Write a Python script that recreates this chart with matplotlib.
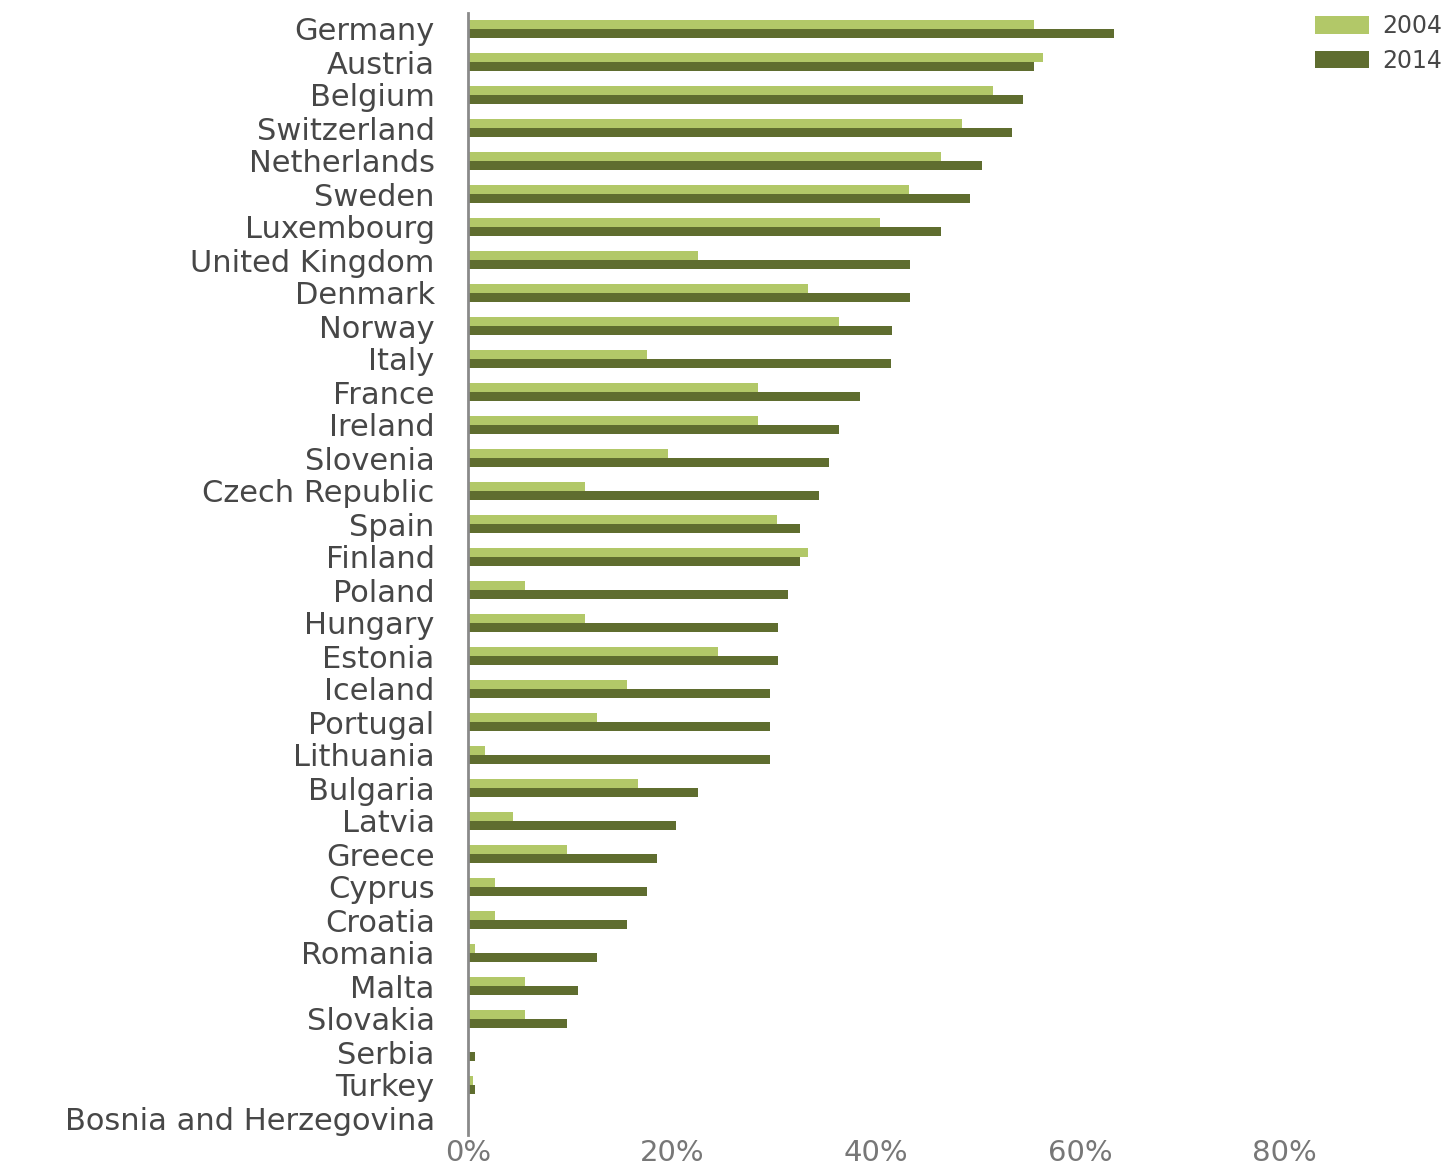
import matplotlib
matplotlib.use("Agg")
import matplotlib.pyplot as plt
import numpy as np
from matplotlib.patches import Patch
from matplotlib.ticker import FuncFormatter

countries = ["Germany", "Austria", "Belgium", "Switzerland", "Netherlands", "Sweden",
             "Luxembourg", "United Kingdom", "Denmark", "Norway", "Italy", "France",
             "Ireland", "Slovenia", "Czech Republic", "Spain", "Finland", "Poland",
             "Hungary", "Estonia", "Iceland", "Portugal", "Lithuania", "Bulgaria",
             "Latvia", "Greece", "Cyprus", "Croatia", "Romania", "Malta", "Slovakia",
             "Serbia", "Turkey", "Bosnia and Herzegovina"]

share_2004 = [55.5, 56.3, 51.4, 48.4, 46.3, 43.2, 40.4, 22.5, 33.3, 36.3, 17.5, 28.4,
              28.4, 19.6, 11.5, 30.3, 33.3, 5.6, 11.5, 24.5, 15.6, 12.6, 1.7, 16.7,
              4.4, 9.7, 2.6, 2.6, 0.7, 5.6, 5.6, 0.0, 0.5, 0.0]

share_2014 = [63.3, 55.5, 54.4, 53.3, 50.4, 49.2, 46.3, 43.3, 43.3, 41.5, 41.4, 38.4,
              36.3, 35.4, 34.4, 32.5, 32.5, 31.4, 30.4, 30.4, 29.6, 29.6, 29.6, 22.5,
              20.4, 18.5, 17.5, 15.6, 12.6, 10.8, 9.7, 0.7, 0.7, 0.0]

years = ["2004", "2014"]
x_ticks = [0, 20, 40, 60, 80]

light = "#b2c868"
dark = "#5f6d2f"
text_col = "#474747"

fig = plt.figure(figsize=(14.55, 11.66), dpi=100)
ax = fig.add_axes([468 / 1455, 1 - 1134.5 / 1166, 1 - 468 / 1455, (1134.5 - 12.5) / 1166])

y = np.arange(len(countries))
h = 0.27
ax.barh(y - 0.15, share_2004, height=h, color=light, edgecolor="none")
ax.barh(y + 0.15, share_2014, height=h, color=dark, edgecolor="none")

ax.set_ylim(len(countries) - 0.5, -0.5)
ax.set_xlim(0, 96.7)
ax.set_yticks(y)
ax.set_yticklabels(countries, fontsize=22, color=text_col)
ax.set_xticks(x_ticks)
ax.xaxis.set_major_formatter(FuncFormatter(lambda v, p: f"{v:.0f}%"))
ax.tick_params(axis="x", length=0, pad=3, labelsize=21, labelcolor="#777777")
ax.tick_params(axis="y", length=0, pad=24)

for s in ["top", "right", "bottom"]:
    ax.spines[s].set_visible(False)
ax.spines["left"].set_color("#8a8a8a")
ax.spines["left"].set_linewidth(2)

handles = [Patch(facecolor=light, edgecolor="none"), Patch(facecolor=dark, edgecolor="none")]
fig.legend(handles, years, loc="upper right", bbox_to_anchor=(1.006, 1.006),
           frameon=False, fontsize=17, labelcolor=text_col,
           handlelength=2.3, handleheight=0.75, handletextpad=0.55, labelspacing=0.45)

fig.savefig("out.png", dpi=100, facecolor="white")
